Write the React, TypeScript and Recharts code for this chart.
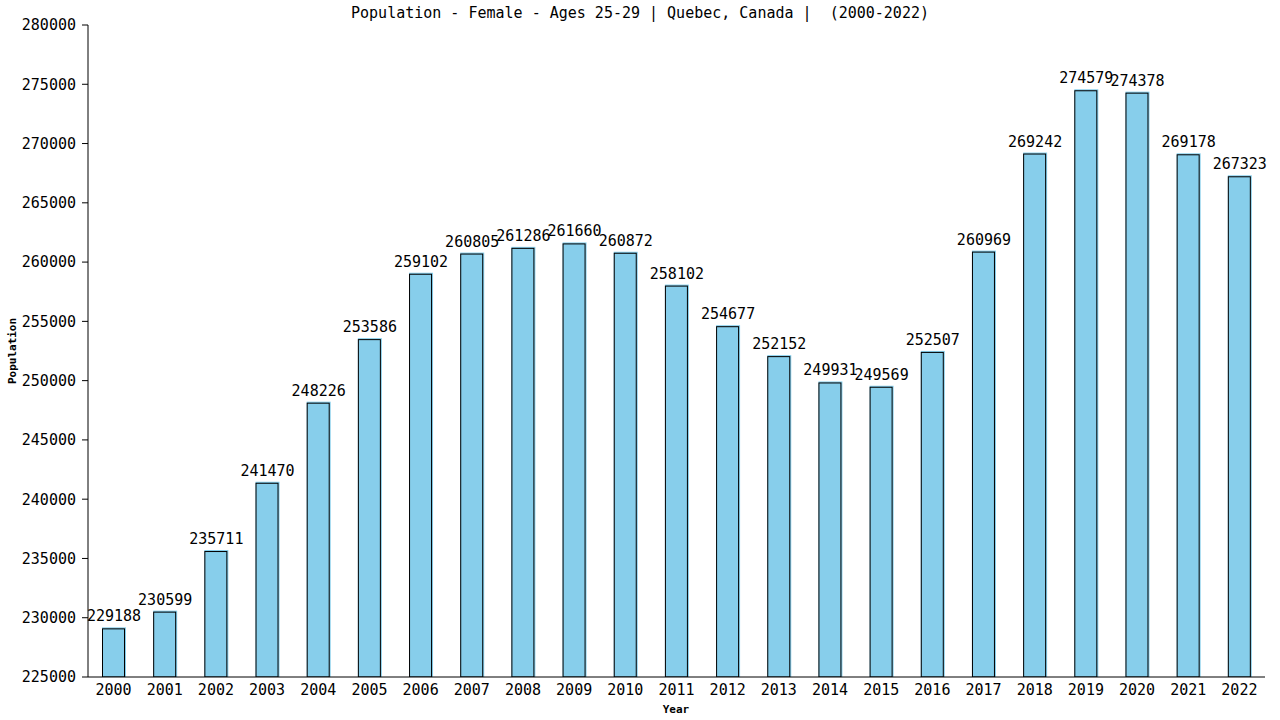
import React from 'react';
import { BarChart, Bar, XAxis, YAxis, LabelList } from 'recharts';

const years = ['2000','2001','2002','2003','2004','2005','2006','2007','2008','2009','2010','2011','2012','2013','2014','2015','2016','2017','2018','2019','2020','2021','2022'];
const population = [229188,230599,235711,241470,248226,253586,259102,260805,261286,261660,260872,258102,254677,252152,249931,249569,252507,260969,269242,274579,274378,269178,267323];
const yTicks = [225000,230000,235000,240000,245000,250000,255000,260000,265000,270000,275000,280000];

const data = years.map((y, i) => ({ year: y, value: population[i] }));

const FONT = '"DejaVu Sans Mono", monospace';

const BarShape = (props: any) => {
  const { x, y, width, height } = props;
  if (width == null || height == null) return null;
  return (
    <g>
      <rect x={x} y={y} width={width} height={height} fill="#87CEEB" />
      <rect x={x + 0.5} y={y + 1.5} width={width - 2} height={height - 1.5} fill="none" stroke="#000" strokeWidth={1} />
    </g>
  );
};

export default function App() {
  return (
    <div style={{ position: 'absolute', left: 0, top: 0, width: 1280, height: 720, background: '#fff' }}>
      <div style={{ position: 'absolute', left: 0, top: 4, width: 1280, textAlign: 'center', fontFamily: FONT, fontSize: 15, lineHeight: '18px', color: '#000', whiteSpace: 'pre' }}>
        {'Population - Female - Ages 25-29 | Quebec, Canada |  (2000-2022)'}
      </div>
      <BarChart width={1280} height={720} data={data} margin={{ top: 25, right: 15, bottom: 13, left: 0 }} barCategoryGap={0}>
        <XAxis
          dataKey="year"
          height={30}
          tickLine={false}
          tickSize={0}
          tickMargin={7}
          axisLine={{ stroke: '#000', strokeWidth: 1 }}
          tick={{ fill: '#000', fontSize: 15, fontFamily: FONT }}
          interval={0}
          label={{ content: () => (
            <text x={676} y={713} textAnchor="middle" fontFamily={FONT} fontSize={11} fontWeight="bold" fill="#000">Year</text>
          ) }}
        />
        <YAxis
          width={88}
          domain={[225000, 280000]}
          ticks={yTicks}
          interval={0}
          allowDataOverflow
          tickSize={6}
          tickMargin={6}
          tickLine={{ stroke: '#000' }}
          axisLine={{ stroke: '#000', strokeWidth: 1 }}
          tick={{ fill: '#000', fontSize: 15, fontFamily: FONT }}
          label={{ content: () => (
            <text x={16} y={351} transform="rotate(-90 16 351)" textAnchor="middle" fontFamily={FONT} fontSize={11} fontWeight="bold" fill="#000">Population</text>
          ) }}
        />
        <YAxis yAxisId="right" orientation="right" width={0} tick={false} tickLine={false} axisLine={{ stroke: '#000', strokeWidth: 1 }} domain={[0, 1]} />
        <Bar dataKey="value" barSize={24} shape={BarShape} isAnimationActive={false}>
          <LabelList dataKey="value" position="top" offset={6} fill="#000" fontSize={15} fontFamily={FONT} />
        </Bar>
      </BarChart>
    </div>
  );
}
